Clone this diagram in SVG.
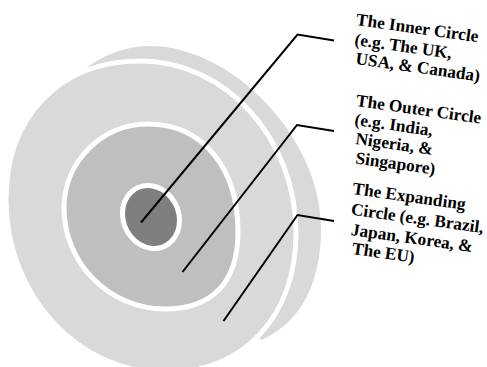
<svg xmlns="http://www.w3.org/2000/svg" width="487" height="367" viewBox="0 0 487 367">
<style>
.light{fill:#d9d9d9}
.ring{stroke:#ffffff;stroke-width:5}
.mid{fill:#bfbfbf}
.dark{fill:#7f7f7f}
.conn{fill:none;stroke:#000000;stroke-width:2;stroke-linejoin:miter}
.lbl{font-family:"Liberation Serif","Times New Roman",serif;font-weight:bold;font-size:17.3px;fill:#000000}
</style>
<rect width="487" height="367" fill="#ffffff"/>
<g id="expanding-circle">
<path class="light" d="M60,100 C75,70 110,46 150,46 C232,46 321,138 321,228 C321,285 300,322 262,340 L200,300 L100,150 Z"/>
<path class="light ring" d="M6,200 C6,116.6 59.6,61 140,61 C225.8,61 296,138.4 296,233 C296,316 243.6,373 165,373 C78,373 6,295 6,200 Z"/>
</g>
<g id="outer-circle">
<path class="mid ring" d="M148,124 C202,124 238,167.2 238,232 C238,282 212.5,309 165,309 C109.5,309 64,263.5 64,208 C64,161.8 101.8,124 148,124 Z"/>
</g>
<g id="inner-circle">
<path class="dark ring" d="M179.5,220.5 C179.5,237.8 166.7,250.2 151,248.3 C135.3,246.4 122.5,230.8 122.5,213.5 C122.5,196.2 135.3,183.8 151,185.7 C166.7,187.6 179.5,203.2 179.5,220.5 Z"/>
</g>
<g id="connectors">
<polyline class="conn" points="141,222.5 297.5,34.5 334,40.5"/>
<polyline class="conn" points="182.5,272 297,125 334,131"/>
<polyline class="conn" points="223.5,321 297.5,215 334,221"/>
</g>
<g id="label-inner">
<text class="lbl" x="355.5" y="25" transform="rotate(8 355.5 25)">The Inner Circle</text>
<text class="lbl" x="354" y="45" transform="rotate(8 354 45)">(e.g. The UK,</text>
<text class="lbl" x="355" y="64" transform="rotate(8 355 64)">USA, &amp; Canada)</text>
</g>
<g id="label-outer">
<text class="lbl" x="355.5" y="106" transform="rotate(8 355.5 106)">The Outer Circle</text>
<text class="lbl" x="354" y="125" transform="rotate(8 354 125)">(e.g. India,</text>
<text class="lbl" x="355" y="144" transform="rotate(8 355 144)">Nigeria, &amp;</text>
<text class="lbl" x="355" y="163.5" transform="rotate(8 355 163.5)">Singapore)</text>
</g>
<g id="label-expanding">
<text class="lbl" x="352" y="194" transform="rotate(8 352 194)">The Expanding</text>
<text class="lbl" x="350.5" y="214.5" transform="rotate(8 350.5 214.5)">Circle (e.g. Brazil,</text>
<text class="lbl" x="350.5" y="235" transform="rotate(8 350.5 235)">Japan, Korea, &amp;</text>
<text class="lbl" x="351.5" y="254" transform="rotate(8 351.5 254)">The EU)</text>
</g>
</svg>
